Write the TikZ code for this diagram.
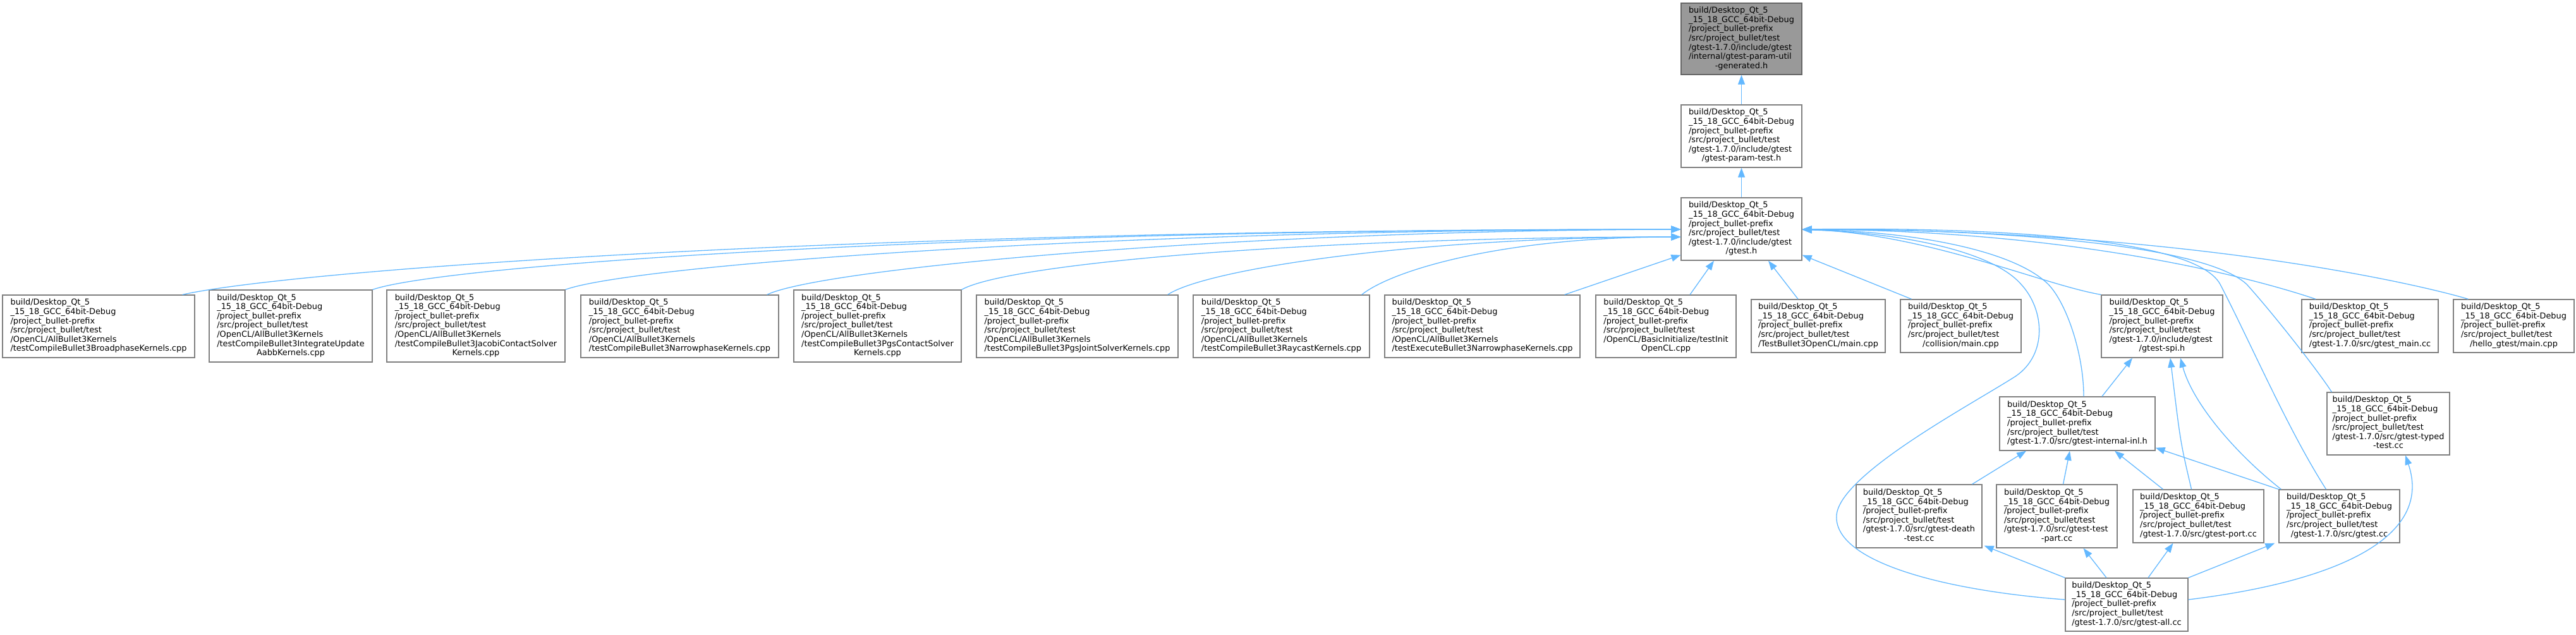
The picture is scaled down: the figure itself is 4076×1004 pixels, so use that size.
\documentclass[tikz,border=0pt]{standalone}
\usepackage{fontspec}
\setmainfont{DejaVu Sans}
\usetikzlibrary{arrows.meta,calc}
\definecolor{edgeblue}{HTML}{63B8FF}
\definecolor{boxgray}{HTML}{808080}
\definecolor{rootfill}{HTML}{999999}
\definecolor{rootdraw}{HTML}{666666}
\newcommand{\pfx}{build/Desktop\_Qt\_5\\\_15\_18\_GCC\_64bit-Debug\\/project\_bullet-prefix\\/src/project\_bullet/test}
\newcommand{\ntxt}[2]{\fontsize{12.9pt}{14.6pt}\selectfont\begin{tabular}{@{}l@{}}\pfx\\#1\multicolumn{1}{@{}c@{}}{#2}\end{tabular}}
\tikzset{
  box/.style={draw=boxgray, line width=1.3pt, fill=white, inner sep=0pt},
  rootbox/.style={box, fill=rootfill, draw=rootdraw},
  edge/.style={draw=edgeblue, line width=1.3pt, -{Triangle[length=15pt,width=11pt]}},
}
\begin{document}
\begin{tikzpicture}[x=1pt,y=-1pt]
\useasboundingbox (0,0) rectangle (4076,1004);
% top chain
\node[rootbox, minimum width=191pt, minimum height=113pt] (N0) at (2755.5,61.5) {\ntxt{/gtest-1.7.0/include/gtest\\/internal/gtest-param-util\\}{-generated.h}};
\node[box, minimum width=191pt, minimum height=99pt] (N1) at (2755.5,215.5) {\ntxt{/gtest-1.7.0/include/gtest\\}{/gtest-param-test.h}};
\node[box, minimum width=191pt, minimum height=99pt] (N2) at (2755.5,362.5) {\ntxt{/gtest-1.7.0/include/gtest\\}{/gtest.h}};
% row 3
\node[box, minimum width=304pt, minimum height=99pt] (A) at (156,516.5) {\ntxt{/OpenCL/AllBullet3Kernels\\}{/testCompileBullet3BroadphaseKernels.cpp}};
\node[box, minimum width=258pt, minimum height=114pt] (B) at (460,516) {\ntxt{/OpenCL/AllBullet3Kernels\\/testCompileBullet3IntegrateUpdate\\}{AabbKernels.cpp}};
\node[box, minimum width=282pt, minimum height=114pt] (C) at (753,516) {\ntxt{/OpenCL/AllBullet3Kernels\\/testCompileBullet3JacobiContactSolver\\}{Kernels.cpp}};
\node[box, minimum width=313pt, minimum height=99pt] (D) at (1075.5,516.5) {\ntxt{/OpenCL/AllBullet3Kernels\\}{/testCompileBullet3NarrowphaseKernels.cpp}};
\node[box, minimum width=265pt, minimum height=114pt] (E) at (1388.5,516) {\ntxt{/OpenCL/AllBullet3Kernels\\/testCompileBullet3PgsContactSolver\\}{Kernels.cpp}};
\node[box, minimum width=319pt, minimum height=99pt] (F) at (1704.5,516.5) {\ntxt{/OpenCL/AllBullet3Kernels\\}{/testCompileBullet3PgsJointSolverKernels.cpp}};
\node[box, minimum width=279pt, minimum height=99pt] (G) at (2027.5,516.5) {\ntxt{/OpenCL/AllBullet3Kernels\\}{/testCompileBullet3RaycastKernels.cpp}};
\node[box, minimum width=309pt, minimum height=99pt] (H) at (2345.5,516.5) {\ntxt{/OpenCL/AllBullet3Kernels\\}{/testExecuteBullet3NarrowphaseKernels.cpp}};
\node[box, minimum width=222pt, minimum height=99pt] (I) at (2636,516.5) {\ntxt{/OpenCL/BasicInitialize/testInit\\}{OpenCL.cpp}};
\node[box, minimum width=212pt, minimum height=84pt] (J) at (2877,516) {\ntxt{}{/TestBullet3OpenCL/main.cpp}};
\node[box, minimum width=191pt, minimum height=84pt] (K) at (3102.5,516) {\ntxt{}{/collision/main.cpp}};
\node[box, minimum width=192pt, minimum height=99pt] (L) at (3421,516.5) {\ntxt{/gtest-1.7.0/include/gtest\\}{/gtest-spi.h}};
\node[box, minimum width=216pt, minimum height=84pt] (M) at (3750,516) {\ntxt{}{/gtest-1.7.0/src/gtest\_main.cc}};
\node[box, minimum width=191pt, minimum height=84pt] (N) at (3977.5,516) {\ntxt{}{/hello\_gtest/main.cpp}};
% row 4
\node[box, minimum width=246pt, minimum height=85pt] (P) at (3287,670.5) {\ntxt{}{/gtest-1.7.0/src/gtest-internal-inl.h}};
\node[box, minimum width=194pt, minimum height=99pt] (Q) at (3779,670.5) {\ntxt{/gtest-1.7.0/src/gtest-typed\\}{-test.cc}};
% row 5
\node[box, minimum width=199pt, minimum height=100pt] (R) at (3036.5,817) {\ntxt{/gtest-1.7.0/src/gtest-death\\}{-test.cc}};
\node[box, minimum width=191pt, minimum height=100pt] (S) at (3254.5,817) {\ntxt{/gtest-1.7.0/src/gtest-test\\}{-part.cc}};
\node[box, minimum width=207pt, minimum height=84pt] (T) at (3478.5,817) {\ntxt{}{/gtest-1.7.0/src/gtest-port.cc}};
\node[box, minimum width=191pt, minimum height=84pt] (U) at (3701.5,817) {\ntxt{}{/gtest-1.7.0/src/gtest.cc}};
% row 6
\node[box, minimum width=194pt, minimum height=84pt] (V) at (3365,957) {\ntxt{}{/gtest-1.7.0/src/gtest-all.cc}};

% edges
\draw[edge] (N1) -- (N0);
\draw[edge] (N2) -- (N1);
% left fan into gtest.h
\draw[edge] ($(A.north east)+(-20,0)$) .. controls (450,430) and (1300,363) .. ($(N2.west)+(0,0.5)$);
\draw[edge] (B.north east) .. controls (700,420) and (1500,363) .. ($(N2.west)+(0,0.5)$);
\draw[edge] (C.north east) .. controls (1000,420) and (1750,363) .. ($(N2.west)+(0,0.5)$);
\draw[edge] ($(D.north east)+(-19,0)$) .. controls (1300,425) and (1950,365) .. ($(N2.west)+(0,0.5)$);
\draw[edge] (E.north east) .. controls (1600,415) and (2100,375) .. ($(N2.west)+(0,12.5)$);
\draw[edge] ($(F.north east)+(-17,0)$) .. controls (1910,425) and (2250,375) .. ($(N2.west)+(0,12.5)$);
\draw[edge] ($(G.north east)+(-13,0)$) .. controls (2204,427) and (2380,375) .. ($(N2.west)+(0,12.5)$);
\draw[edge] ($(H.north east)+(-25,0)$) -- ($(N2.south west)+(0,-9)$);
\draw[edge] ($(I.north)+(38,0)$) -- ($(N2.south)+(-43.5,0)$);
\draw[edge] ($(J.north)+(-32,0)$) -- ($(N2.south)+(42.5,0)$);
\draw[edge] ($(K.north)+(-78,0)$) -- ($(N2.south east)+(0,-9)$);
% right fan into gtest.h
\draw[edge] (L.north west) .. controls (3230,450) and (3050,370) .. ($(N2.east)+(0,0.5)$);
\draw[edge] ($(M.north)+(-86,0)$) .. controls (3580,445) and (3300,365) .. ($(N2.east)+(0,0.5)$);
\draw[edge] ($(N.north)+(-72,0)$) .. controls (3820,448) and (3450,363) .. ($(N2.east)+(0,0.5)$);
\draw[edge] ($(P.north)+(10,0)$) .. controls (3297,560) and (3270,480) .. (3241,450) .. controls (3180,390) and (3000,365) .. ($(N2.east)+(0,1)$);
\draw[edge] ($(Q.north west)+(8,0)$) .. controls (3670,590) and (3600,500) .. (3555,450) .. controls (3480,380) and (3100,362) .. ($(N2.east)+(0,0.5)$);
\draw[edge] ($(U.north)+(-21,0)$) .. controls (3620,680) and (3560,540) .. (3513,450) .. controls (3470,370) and (3100,360) .. ($(N2.east)+(0,0.5)$);
\draw[edge] ($(V.west)+(0,-8)$) .. controls (3080,935) and (2900,890) .. (2906,815) .. controls (2912,750) and (3120,640) .. (3190,595) .. controls (3240,560) and (3235,490) .. (3198,450) .. controls (3150,395) and (3000,368) .. ($(N2.east)+(0,1)$);
% into gtest-spi.h
\draw[edge] ($(P.north)+(39,0)$) -- ($(L.south)+(-47,0)$);
\draw[edge] ($(T.north)+(-11,0)$) .. controls (3450,700) .. ($(L.south)+(13,0)$);
\draw[edge] ($(U.north west)+(4,0)$) .. controls (3540,720) and (3470,640) .. ($(L.south)+(29,0)$);
% into gtest-internal-inl.h
\draw[edge] ($(R.north)+(84,0)$) -- ($(P.south)+(-81,0)$);
\draw[edge] ($(S.north)+(10,0)$) -- ($(P.south)+(-12,0)$);
\draw[edge] ($(T.north)+(-56,0)$) -- ($(P.south)+(59,0)$);
\draw[edge] (U.north west) -- ($(P.south east)+(0,-5)$);
% from gtest-all.cc
\draw[edge] (V.north west) -- ($(R.south east)+(3,-4)$);
\draw[edge] ($(V.north)+(-32,0)$) -- ($(S.south)+(42,0)$);
\draw[edge] ($(V.north)+(34,0)$) -- ($(T.south)+(-40,0)$);
\draw[edge] (V.north east) -- ($(U.south west)+(-6,0)$);
\draw[edge] ($(V.east)+(0,-8)$) .. controls (3700,920) and (3850,850) .. ($(Q.south)+(27,0)$);
\end{tikzpicture}
\end{document}
